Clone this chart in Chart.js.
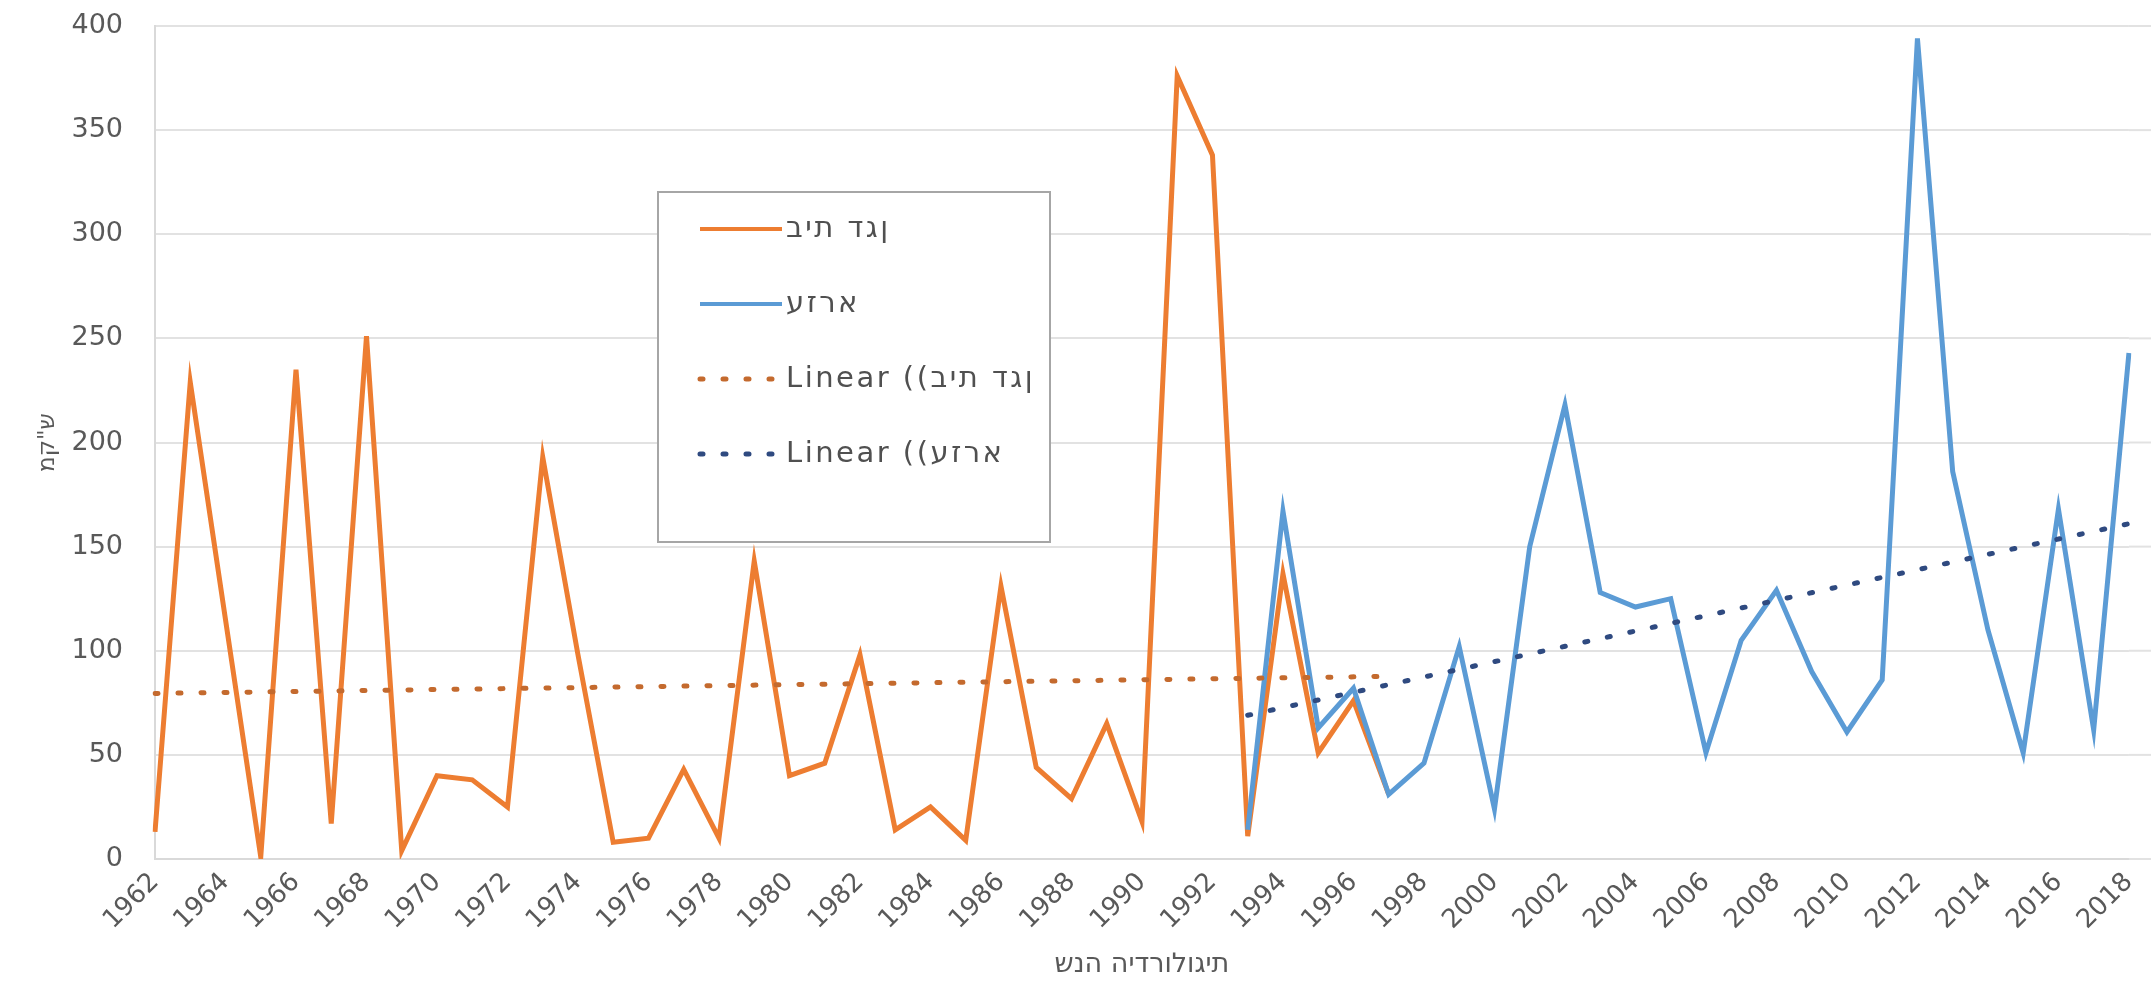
<!DOCTYPE html>
<html>
<head>
<meta charset="utf-8">
<script src="https://cdn.jsdelivr.net/npm/chart.js@4"></script>
<style>
  body { margin: 0; background: #fff; }
  canvas { display: block; }
</style>
</head>
<body>
<canvas id="myChart" width="2151" height="982"></canvas>
<script>
// hydrological years (x axis)
var years = ['1962','1963','1964','1965','1966','1967','1968','1969','1970','1971',
  '1972','1973','1974','1975','1976','1977','1978','1979','1980','1981',
  '1982','1983','1984','1985','1986','1987','1988','1989','1990','1991',
  '1992','1993','1994','1995','1996','1997','1998','1999','2000','2001',
  '2002','2003','2004','2005','2006','2007','2008','2009','2010','2011',
  '2012','2013','2014','2015','2016','2017','2018'];

// Beit Dagan, 1962-1997
var daganYears = years.slice(0, 36);
var daganValues = [13, 229, 115, 1, 235, 17, 251, 4, 40, 38,
  25, 193, 98, 8, 10, 43, 10, 143, 40, 46,
  98, 14, 25, 9, 131, 44, 29, 65, 18, 376,
  338, 11, 137, 51, 76, 31];

// Ezra, 1993-2018
var ezraYears = years.slice(31);
var ezraValues = [14, 167, 63, 82, 31, 46, 102, 24, 150, 218,
  128, 121, 125, 51, 105, 129, 90, 61, 86, 394,
  186, 110, 51, 168, 62, 243];

// linear trend lines, end points
var daganTrendYears = ['1962', '1997'];
var daganTrendValues = [79.5, 87.7];
var ezraTrendYears = ['1993', '2018'];
var ezraTrendValues = [69, 161];

var yTicks = [0, 50, 100, 150, 200, 250, 300, 350, 400];

function pairs(xs, ys) {
  return xs.map(function (x, i) { return { x: x, y: ys[i] }; });
}

// the canvas here draws hebrew in logical order, so flip the hebrew runs
function visual(s) {
  return s.replace(/[\u0590-\u05FF][\u0590-\u05FF\s"']*[\u0590-\u05FF]|[\u0590-\u05FF]/g,
    function (m) { return m.split('').reverse().join(''); });
}

var FONT = 'DejaVu Sans';
var GRAY = '#595959';
var GRID = '#e2e2e2';
var CLEAR = 'rgba(0,0,0,0)';

// gridlines in the Excel picture run on to the right edge
var gridTail = {
  id: 'gridTail',
  beforeDatasetsDraw: function (chart) {
    var ctx = chart.ctx, y = chart.scales.y, area = chart.chartArea;
    ctx.save();
    ctx.strokeStyle = GRID;
    ctx.lineWidth = 2;
    yTicks.forEach(function (v) {
      var py = y.getPixelForValue(v);
      ctx.beginPath();
      ctx.moveTo(area.right, py);
      ctx.lineTo(chart.width, py);
      ctx.stroke();
    });
    ctx.restore();
  }
};

// legend drawn inside the plot, like the Excel box
var legendBox = {
  id: 'legendBox',
  afterDraw: function (chart) {
    var ctx = chart.ctx;
    ctx.save();
    ctx.fillStyle = '#ffffff';
    ctx.fillRect(658, 192, 392, 350);
    ctx.strokeStyle = '#a6a6a6';
    ctx.lineWidth = 2;
    ctx.strokeRect(658, 192, 392, 350);
    chart.data.datasets.forEach(function (ds, i) {
      var y = 229 + i * 75;
      ctx.beginPath();
      ctx.setLineDash(ds.borderDash || []);
      ctx.lineCap = ds.borderCapStyle || 'butt';
      ctx.strokeStyle = ds.borderColor;
      ctx.lineWidth = ds.borderDash ? ds.borderWidth : 4;
      ctx.moveTo(700, y);
      ctx.lineTo(782, y);
      ctx.stroke();
      ctx.setLineDash([]);
      ctx.fillStyle = '#505050';
      ctx.font = '29px "' + FONT + '"';
      ctx.letterSpacing = '2.5px';
      ctx.textAlign = 'left';
      ctx.textBaseline = 'middle';
      ctx.fillText(visual(ds.label), 786, y);
    });
    ctx.restore();
  }
};

var ctx = document.getElementById('myChart').getContext('2d');
var chart = new Chart(ctx, {
  type: 'line',
  data: {
    labels: years,
    datasets: [{
      label: 'בית דגן',
      data: pairs(daganYears, daganValues),
      borderColor: '#ED7D31',
      borderWidth: 5,
      pointRadius: 0,
      order: 2
    },
    {
      label: 'עזרא',
      data: pairs(ezraYears, ezraValues),
      borderColor: '#5B9BD5',
      borderWidth: 5,
      pointRadius: 0,
      order: 1
    },
    {
      label: 'Linear ((בית דגן',
      data: pairs(daganTrendYears, daganTrendValues),
      borderColor: '#C46A2E',
      borderWidth: 5,
      borderDash: [3, 20],
      borderCapStyle: 'round',
      pointRadius: 0,
      order: 0
    },
    {
      label: 'Linear ((עזרא',
      data: pairs(ezraTrendYears, ezraTrendValues),
      borderColor: '#2F4A80',
      borderWidth: 5,
      borderDash: [3, 20],
      borderCapStyle: 'round',
      pointRadius: 0,
      order: 0
    }]
  },
  options: {
    responsive: false,
    animation: false,
    devicePixelRatio: 1,
    layout: { padding: { top: 26, right: 20, left: 0, bottom: 0 } },
    plugins: {
      legend: { display: false },
      tooltip: { enabled: false }
    },
    scales: {
      x: {
        type: 'category',
        offset: false,
        grid: { display: true, drawOnChartArea: false, drawTicks: true, tickLength: 8, tickColor: CLEAR },
        border: { display: true, color: '#d9d9d9', width: 2 },
        ticks: {
          autoSkip: false,
          maxRotation: 45,
          minRotation: 45,
          padding: 0,
          color: GRAY,
          font: { family: FONT, size: 26 },
          callback: function (v, i) { return i % 2 === 0 ? years[i] : ''; }
        },
        title: {
          display: true,
          text: visual('שנה הידרולוגית'),
          color: GRAY,
          font: { family: FONT, size: 27 },
          padding: { top: 0, bottom: 1 }
        },
        afterFit: function (scale) { scale.height = 123; }
      },
      y: {
        min: 0,
        max: 400,
        afterBuildTicks: function (scale) {
          scale.ticks = yTicks.map(function (v) { return { value: v }; });
        },
        grid: { color: GRID, lineWidth: 2, drawTicks: true, tickLength: 30, tickColor: CLEAR },
        border: { display: true, color: '#d9d9d9', width: 2 },
        ticks: {
          padding: 2,
          color: GRAY,
          font: { family: FONT, size: 27 }
        },
        title: {
          display: true,
          text: visual('מק"ש'),
          color: GRAY,
          font: { family: FONT, size: 23 },
          padding: { top: 34, bottom: 0 }
        },
        afterFit: function (scale) { scale.width = 155; }
      }
    }
  },
  plugins: [gridTail, legendBox]
});
</script>
</body>
</html>
